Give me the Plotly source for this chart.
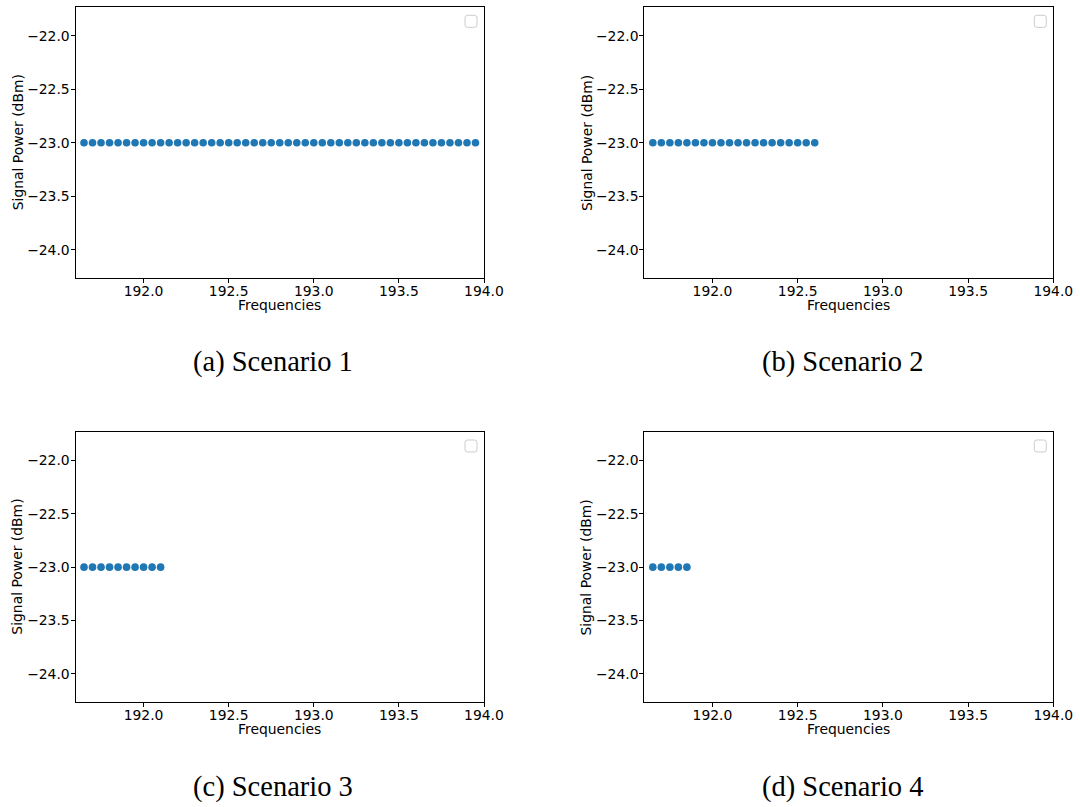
import plotly.graph_objects as go

# ---------------- data ----------------
freq_s1 = [191.65, 191.70, 191.75, 191.80, 191.85, 191.90, 191.95, 192.00,
           192.05, 192.10, 192.15, 192.20, 192.25, 192.30, 192.35, 192.40,
           192.45, 192.50, 192.55, 192.60, 192.65, 192.70, 192.75, 192.80,
           192.85, 192.90, 192.95, 193.00, 193.05, 193.10, 193.15, 193.20,
           193.25, 193.30, 193.35, 193.40, 193.45, 193.50, 193.55, 193.60,
           193.65, 193.70, 193.75, 193.80, 193.85, 193.90, 193.95]
power_s1 = [-23.0] * len(freq_s1)

freq_s2 = [191.65, 191.70, 191.75, 191.80, 191.85, 191.90, 191.95, 192.00,
           192.05, 192.10, 192.15, 192.20, 192.25, 192.30, 192.35, 192.40,
           192.45, 192.50, 192.55, 192.60]
power_s2 = [-23.0] * len(freq_s2)

freq_s3 = [191.65, 191.70, 191.75, 191.80, 191.85, 191.90, 191.95, 192.00,
           192.05, 192.10]
power_s3 = [-23.0] * len(freq_s3)

freq_s4 = [191.65, 191.70, 191.75, 191.80, 191.85]
power_s4 = [-23.0] * len(freq_s4)

captions = ["(a) Scenario 1", "(b) Scenario 2", "(c) Scenario 3", "(d) Scenario 4"]
x_title = "Frequencies"
y_title = "Signal Power (dBm)"
x_ticks = [192.0, 192.5, 193.0, 193.5, 194.0]
y_ticks = [-24.0, -23.5, -23.0, -22.5, -22.0]
x_range = [191.6, 194.0]
y_range = [-24.265, -21.735]

series = [(freq_s1, power_s1), (freq_s2, power_s2), (freq_s3, power_s3), (freq_s4, power_s4)]

# ---------------- layout geometry (pixels) ----------------
W, H = 1080, 807
x_px = [(75.5, 484.0), (644.3, 1053.3)]
y_px = [(7.3, 278.3), (432.0, 702.3)]
cap_x = [272.5, 842.5]
cap_y = [362.0, 787.0]

fig = go.Figure()
font_tick = dict(family="DejaVu Sans", size=13.9, color="black")

shapes = []
annotations = []
for i, (xs, ys) in enumerate(series):
    r, c = divmod(i, 2)
    n = i + 1
    xa = "x" if n == 1 else f"x{n}"
    ya = "y" if n == 1 else f"y{n}"
    fig.add_trace(go.Scatter(x=xs, y=ys, mode="markers", xaxis=xa, yaxis=ya,
                             marker=dict(color="#1f77b4", size=7.6),
                             showlegend=False))
    x0, x1 = x_px[c]
    y0, y1 = y_px[r]
    common = dict(showline=True, mirror=True, linecolor="black", linewidth=1,
                  ticks="outside", ticklen=4, tickwidth=1, tickcolor="black",
                  showgrid=False, zeroline=False, tickfont=font_tick,
                  tickformat=".1f", automargin=False)
    fig.layout[f"xaxis{'' if n == 1 else n}"] = dict(
        domain=[x0 / W, x1 / W], range=x_range, tickvals=x_ticks,
        anchor=ya, ticklabelstandoff=-4, **common)
    fig.layout[f"yaxis{'' if n == 1 else n}"] = dict(
        domain=[1 - y1 / H, 1 - y0 / H], range=y_range, tickvals=y_ticks,
        anchor=xa, ticklabelstandoff=-2, **common)

    # axis titles
    annotations.append(dict(text=x_title, xref="paper", yref="paper",
                            x=(x0 + x1) / 2 / W, y=1 - (y1 + 27.0) / H,
                            xanchor="center", yanchor="middle", showarrow=False,
                            font=font_tick))
    annotations.append(dict(text=y_title, xref="paper", yref="paper",
                            x=(x0 - 58.0) / W, y=1 - (y0 + y1) / 2 / H,
                            xanchor="center", yanchor="middle", showarrow=False,
                            textangle=-90, font=font_tick))

    # empty legend box (rounded square) in upper right corner
    bx1 = x1 - 7.0
    bx0 = bx1 - 12.0
    by0 = y0 + 8.0
    by1 = by0 + 12.0
    rad = 2.5
    def P(px, py):
        return f"{px / W:.6f},{1 - py / H:.6f}"
    path = (f"M {P(bx0 + rad, by0)} L {P(bx1 - rad, by0)} Q {P(bx1, by0)} {P(bx1, by0 + rad)} "
            f"L {P(bx1, by1 - rad)} Q {P(bx1, by1)} {P(bx1 - rad, by1)} "
            f"L {P(bx0 + rad, by1)} Q {P(bx0, by1)} {P(bx0, by1 - rad)} "
            f"L {P(bx0, by0 + rad)} Q {P(bx0, by0)} {P(bx0 + rad, by0)} Z")
    shapes.append(dict(type="path", xref="paper", yref="paper", path=path,
                       line=dict(color="#cccccc", width=1), fillcolor="white"))

    annotations.append(dict(text=captions[i], xref="paper", yref="paper",
                            x=cap_x[c] / W, y=1 - cap_y[r] / H,
                            xanchor="center", yanchor="middle", showarrow=False,
                            font=dict(family="Liberation Serif", size=28.5, color="black")))

fig.update_layout(width=W, height=H, autosize=False, template="none",
                  margin=dict(l=0, r=0, t=0, b=0),
                  paper_bgcolor="white", plot_bgcolor="white",
                  shapes=shapes, annotations=annotations, showlegend=False)

fig.write_html("out.html")
